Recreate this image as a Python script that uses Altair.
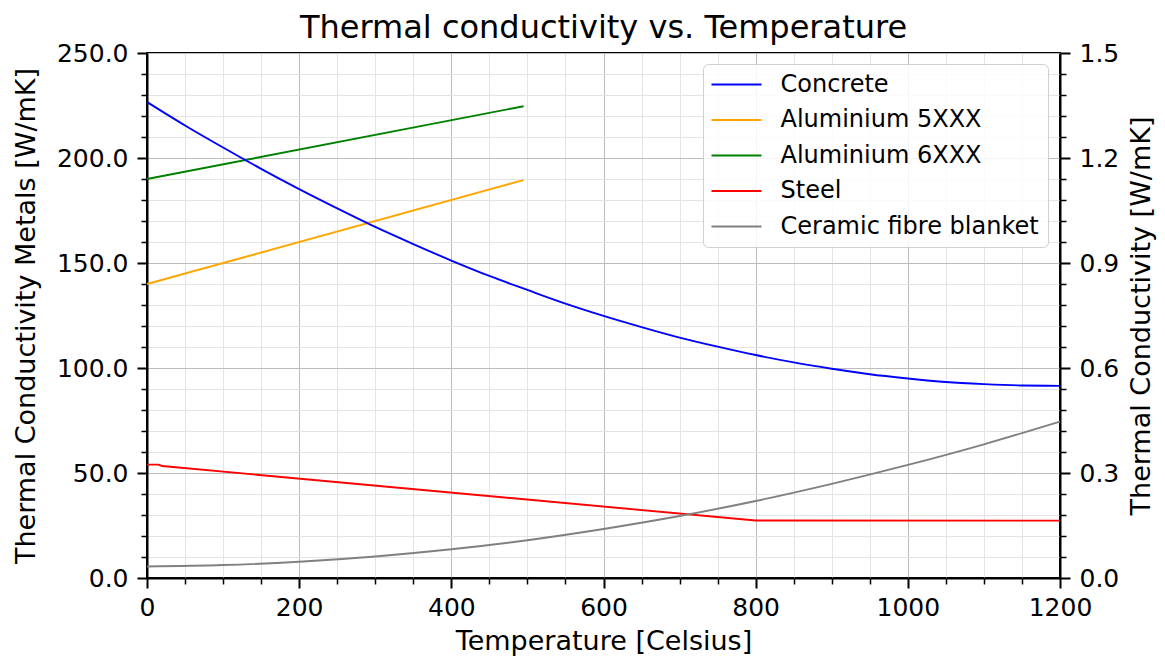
import altair as alt
import pandas as pd

# ---- data ----
conc_t = [0, 50, 100, 150, 200, 250, 300, 350, 400, 450, 500, 550, 600,
          650, 700, 750, 800, 850, 900, 950, 1000, 1050, 1100, 1150, 1200]
concrete = [1.360, 1.293, 1.230, 1.169, 1.111, 1.056, 1.003, 0.954, 0.907,
            0.863, 0.823, 0.784, 0.749, 0.717, 0.687, 0.661, 0.637, 0.616,
            0.598, 0.582, 0.570, 0.560, 0.554, 0.550, 0.549]
cer_t = [0, 100, 200, 300, 400, 500, 600, 700, 800, 900, 1000, 1100, 1200]
ceramic = [0.033, 0.037, 0.0465, 0.0615, 0.082, 0.108, 0.140, 0.177,
           0.220, 0.269, 0.323, 0.382, 0.447]
al_t = [0, 495]
al5 = [140.0, 189.5]
al6 = [190.0, 224.65]
steel_t = [0, 15, 20, 800, 1200]
steel = [54.0, 54.0, 53.33, 27.36, 27.3]

names = ["Concrete", "Aluminium 5XXX", "Aluminium 6XXX", "Steel",
         "Ceramic fibre blanket"]
colors = ["#0000ff", "#ffa500", "#008000", "#ff0000", "#808080"]

metals = pd.concat([
    pd.DataFrame({"T": al_t, "v": al5, "m": names[1]}),
    pd.DataFrame({"T": al_t, "v": al6, "m": names[2]}),
    pd.DataFrame({"T": steel_t, "v": steel, "m": names[3]}),
])
insul = pd.concat([
    pd.DataFrame({"T": conc_t, "v": concrete, "m": names[0]}),
    pd.DataFrame({"T": cer_t, "v": ceramic, "m": names[4]}),
])

FONT = "DejaVu Sans"
x_ticks = list(range(0, 1201, 50))
yl_ticks = list(range(0, 251, 10))
yr_ticks = [round(i * 0.06, 2) for i in range(26)]

MAJ, MIN = 10, 6
LW = 1.9

x_axis = alt.Axis(
    values=x_ticks, title="Temperature [Celsius]",
    labelExpr="datum.value % 200 == 0 ? datum.value : ''",
    tickSize=alt.condition("datum.value % 200 == 0", alt.value(MAJ), alt.value(MIN)),
    tickWidth=alt.condition("datum.value % 200 == 0", alt.value(2), alt.value(1.5)),
    grid=True,
    gridColor=alt.condition("datum.value % 200 == 0", alt.value("#bcbcbc"), alt.value("#e4e4e4")),
    gridWidth=1, labelPadding=7, titlePadding=8,
)

color = alt.Color(
    "m:N", title=None,
    scale=alt.Scale(domain=names, range=colors),
    legend=alt.Legend(
        orient="none", legendX=556, legendY=11,
        symbolType="M-2.5,0H2.5", symbolSize=400, symbolStrokeWidth=LW,
        labelFontSize=24, labelFont=FONT, labelColor="black", labelLimit=0,
        fillColor="rgba(255,255,255,0.85)", strokeColor="#d0d0d0",
        cornerRadius=5, padding=8.5, rowPadding=11.5, symbolOffset=13,
        labelOffset=32,
    ),
)

left = alt.Chart(metals).mark_line(strokeWidth=LW).encode(
    x=alt.X("T:Q", scale=alt.Scale(domain=[0, 1200], nice=False), axis=x_axis),
    y=alt.Y("v:Q", scale=alt.Scale(domain=[0, 250], nice=False),
            axis=alt.Axis(
                values=yl_ticks, title="Thermal Conductivity Metals [W/mK]",
                labelExpr="datum.value % 50 == 0 ? format(datum.value, '.1f') : ''",
                tickSize=alt.condition("datum.value % 50 == 0", alt.value(MAJ), alt.value(MIN)),
                tickWidth=alt.condition("datum.value % 50 == 0", alt.value(2), alt.value(1.5)),
                grid=True,
                gridColor=alt.condition("datum.value % 50 == 0", alt.value("#bcbcbc"), alt.value("#e4e4e4")),
                gridWidth=1, labelPadding=9, titlePadding=16,
            )),
    color=color,
    detail="m:N",
)

right = alt.Chart(insul).mark_line(strokeWidth=LW, interpolate="monotone").encode(
    x=alt.X("T:Q", scale=alt.Scale(domain=[0, 1200], nice=False), axis=x_axis),
    y=alt.Y("v:Q", scale=alt.Scale(domain=[0, 1.5], nice=False),
            axis=alt.Axis(
                orient="right", values=yr_ticks,
                title="Thermal Conductivity [W/mK]", titleAngle=270,
                titleBaseline="top",
                labelExpr="abs(datum.value/0.3 - round(datum.value/0.3)) < 1e-6 ? format(datum.value, '.1f') : ''",
                tickSize=alt.condition("abs(datum.value/0.3 - round(datum.value/0.3)) < 1e-6", alt.value(MAJ), alt.value(MIN)),
                tickWidth=alt.condition("abs(datum.value/0.3 - round(datum.value/0.3)) < 1e-6", alt.value(2), alt.value(1.5)),
                grid=False, labelPadding=9, titlePadding=10,
            )),
    color=color,
    detail="m:N",
)

chart = alt.layer(left, right).resolve_scale(y="independent").properties(
    width=913, height=525,
    background="white",
    title=alt.TitleParams("Thermal conductivity vs. Temperature", fontSize=32,
                          font=FONT, fontWeight="normal", color="black",
                          offset=-29, baseline="alphabetic"),
    autosize=alt.AutoSizeParams(type="none"),
    padding={"left": 147, "top": 53, "right": 105, "bottom": 82},
).configure_view(stroke="black", strokeWidth=2).configure_axis(
    labelFont=FONT, titleFont=FONT, labelFontSize=25, titleFontSize=27,
    labelColor="black", titleColor="black", titleFontWeight="normal",
    domainColor="black", domainWidth=2, tickColor="black",
    labelFlush=False, labelOverlap=False,
)

chart.save("out.html", embed_options={"renderer": "svg", "actions": False})
